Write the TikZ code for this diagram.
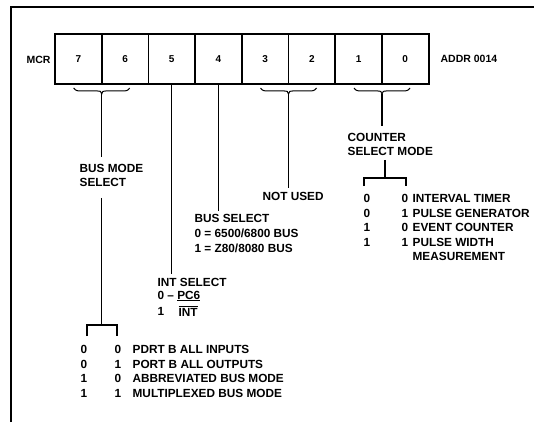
\documentclass[tikz,border=0pt]{standalone}
\usepackage{fontspec}
\setmainfont{Liberation Sans}
\begin{document}
\begin{tikzpicture}[x=1pt,y=-1pt,
  line width=1.3pt,
  cell/.style={draw,line width=1.8pt,minimum width=46.7pt,minimum height=50pt,inner sep=0pt,font=\fontsize{10}{11}\selectfont\bfseries},
  lbl/.style={anchor=west,inner sep=0pt,font=\fontsize{11.8}{13}\selectfont\bfseries},
  small/.style={anchor=west,inner sep=0pt,font=\fontsize{10.5}{12}\selectfont\bfseries}]
\useasboundingbox[fill=white] (0,0) rectangle (534,422);
% frame
\draw[line width=1.2pt] (11,422) -- (11,7) -- (534,7);
% register cells
\foreach \b [count=\i from 0] in {7,6,5,4,3,2,1,0} {
  \node[cell] (c\b) at ({55+46.7*(\i+0.5)},59) {\b};
}
\node[small] (mcr) at (26,60) {MCR};
\node[small] (addr) at (440,59) {ADDR 0014};
% braces
\newcommand{\minibrace}[2]{%
  \draw[line width=1pt] ({#1-28},88) .. controls ({#1-26},91) and ({#1-24},91) .. ({#1-20},91) -- ({#1-4},91)
     .. controls ({#1-1},91) .. (#1,#2) .. controls ({#1+1},91) .. ({#1+4},91) -- ({#1+20},91)
     .. controls ({#1+24},91) and ({#1+26},91) .. ({#1+28},88);}
\minibrace{101.7}{94}
\minibrace{288.5}{94}
\minibrace{382}{94}
\coordinate (b76) at (101.7,94);
\coordinate (b32) at (288.5,94);
\coordinate (b10) at (382,94);
% counter select mode
\node[lbl] (cnt) at (347,137) {COUNTER};
\node[lbl] (sm) at (347,151) {SELECT MODE};
\draw[shorten >=6pt] (b10) -- (b10 |- cnt.north);
\coordinate (br1) at (385,178);
\draw[shorten <=4pt] (br1 |- sm.south) -- (br1);
\draw (364,186) -- (364,178) -- (406,178) -- (406,186);
\foreach \a/\b/\t/\y in {0/0/INTERVAL TIMER/198, 0/1/PULSE GENERATOR/213, 1/0/EVENT COUNTER/227, 1/1/PULSE WIDTH/242} {
  \node[lbl] at (363,\y) {\a};
  \node[lbl] at (401,\y) {\b};
  \node[lbl] at (412,\y) {\t};
}
\node[lbl] (meas) at (412,256) {MEASUREMENT};
% bus mode select
\node[lbl] (bm1) at (79,168) {BUS MODE};
\node[lbl] (bm2) at (79,182) {SELECT};
\draw[shorten >=6pt] (b76) -- (b76 |- bm1.north);
\coordinate (br2) at (101.7,325);
\draw[shorten <=11pt] (br2 |- bm2.south) -- (br2);
\draw (87,336) -- (87,325) -- (117,325) -- (117,336);
\foreach \a/\b/\t/\y in {0/0/PDRT B ALL INPUTS/349, 0/1/PORT B ALL OUTPUTS/364, 1/0/ABBREVIATED BUS MODE/378, 1/1/MULTIPLEXED BUS MODE/393} {
  \node[lbl] at (80,\y) {\a};
  \node[lbl] at (114,\y) {\b};
  \node[lbl] at (132,\y) {\t};
}
% not used
\node[lbl] (nu) at (262,196) {NOT USED};
\draw[shorten >=3pt] (b32) -- (b32 |- nu.north);
% bus select
\node[lbl] (bs) at (194,218) {BUS SELECT};
\node[lbl] at (194,233) {0 = 6500/6800 BUS};
\node[lbl] at (194,248) {1 = Z80/8080 BUS};
\draw[shorten >=2pt] (c4.south) -- (c4.south |- bs.north);
% int select
\node[lbl] (is) at (157,282) {INT SELECT};
\node[lbl] at (157,296) {0 – \underline{PC6}};
\node[lbl] at (157,311) {1};
\node[lbl] at (178,311) {$\overline{\hbox{INT}}$};
\draw[shorten >=3pt] (c5.south) -- (c5.south |- is.north);
\end{tikzpicture}
\end{document}
